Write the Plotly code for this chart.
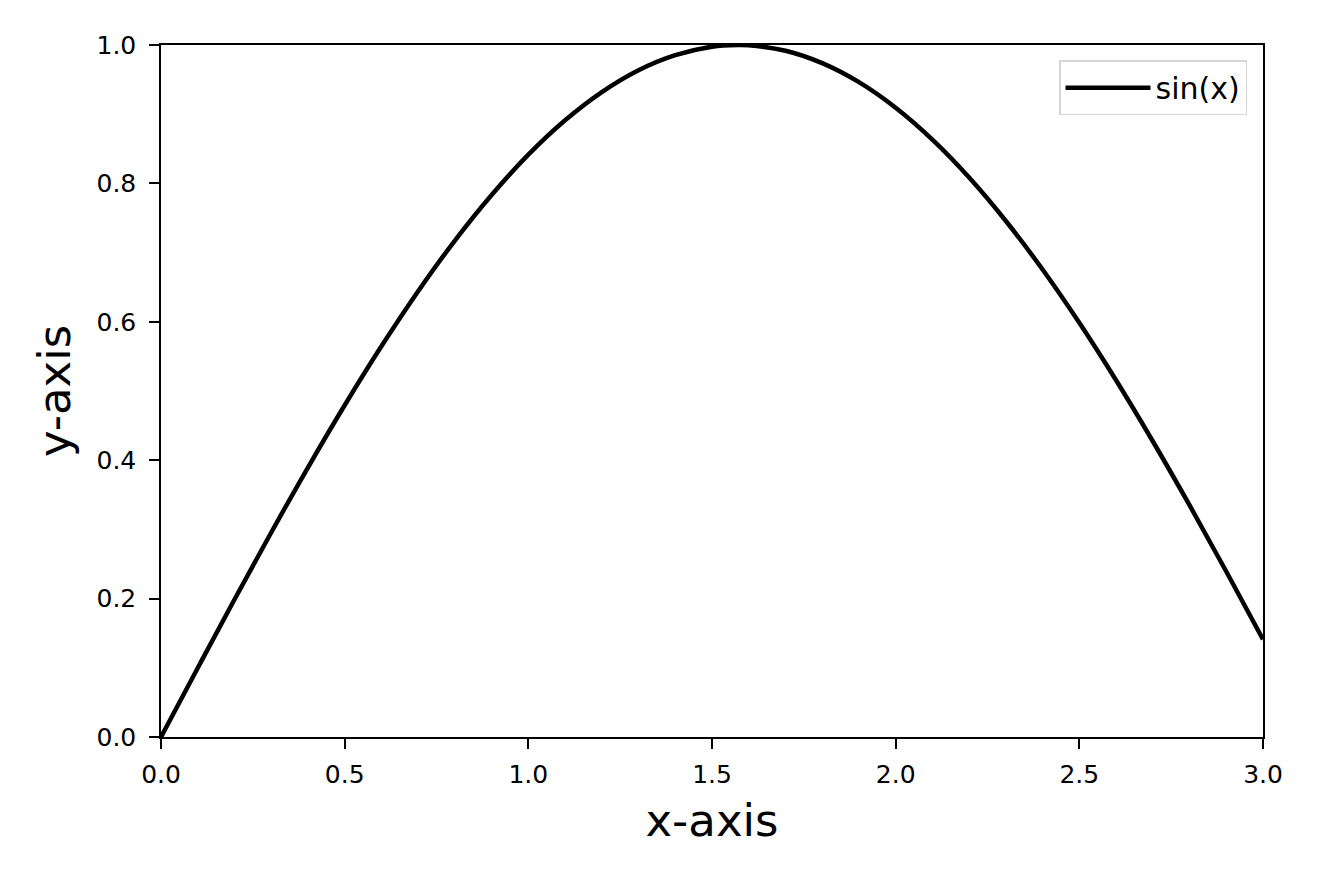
import plotly.graph_objects as go

# valores
x_vals = [0.0, 0.1, 0.2, 0.3, 0.4, 0.5, 0.6, 0.7, 0.8, 0.9, 1.0,
          1.1, 1.2, 1.3, 1.4, 1.5, 1.57, 1.6, 1.7, 1.8, 1.9, 2.0,
          2.1, 2.2, 2.3, 2.4, 2.5, 2.6, 2.7, 2.8, 2.9, 3.0]
y_vals = [0.0, 0.0998, 0.1987, 0.2955, 0.3894, 0.4794, 0.5646, 0.6442, 0.7174, 0.7833, 0.8415,
          0.8912, 0.9320, 0.9636, 0.9854, 0.9975, 1.0, 0.9996, 0.9917, 0.9738, 0.9463, 0.9093,
          0.8632, 0.8085, 0.7457, 0.6755, 0.5985, 0.5155, 0.4274, 0.3350, 0.2392, 0.1411]

x_ticks = [0.0, 0.5, 1.0, 1.5, 2.0, 2.5, 3.0]
y_ticks = [0.0, 0.2, 0.4, 0.6, 0.8, 1.0]

fig = go.Figure()
fig.add_trace(go.Scatter(
    x=x_vals, y=y_vals, mode="lines", name="sin(x)",
    line=dict(color="black", width=4.5, shape="spline"),
))

axis_common = dict(
    showline=True, linecolor="black", linewidth=1.5, mirror=True,
    ticks="outside", ticklen=10, tickwidth=1.5, tickcolor="black",
    showgrid=False, zeroline=False, automargin=False,
    tickfont=dict(size=25, color="black"),
)

fig.update_xaxes(
    range=[0, 3], tickvals=x_ticks, ticktext=[f"{v:.1f}" for v in x_ticks],
    ticklabelstandoff=4,
    title=dict(text="x-axis", font=dict(size=45, color="black"), standoff=17),
    **axis_common,
)
fig.update_yaxes(
    range=[0, 1], tickvals=y_ticks, ticktext=[f"{v:.1f}" for v in y_ticks],
    ticklabelstandoff=8,
    title=dict(text="y-axis", font=dict(size=45, color="black"), standoff=12),
    **axis_common,
)

fig.update_layout(
    width=1320, height=880,
    margin=dict(l=153, r=65, t=37, b=151),
    plot_bgcolor="white", paper_bgcolor="white",
    font=dict(family="DejaVu Sans", color="black"),
    showlegend=True,
    legend=dict(
        x=0.9855, y=0.978, xanchor="right", yanchor="top",
        bordercolor="#d6d6d6", borderwidth=1.5, bgcolor="white",
        itemwidth=85,
        font=dict(size=30, color="black"),
    ),
)

fig.write_html("out.html")
